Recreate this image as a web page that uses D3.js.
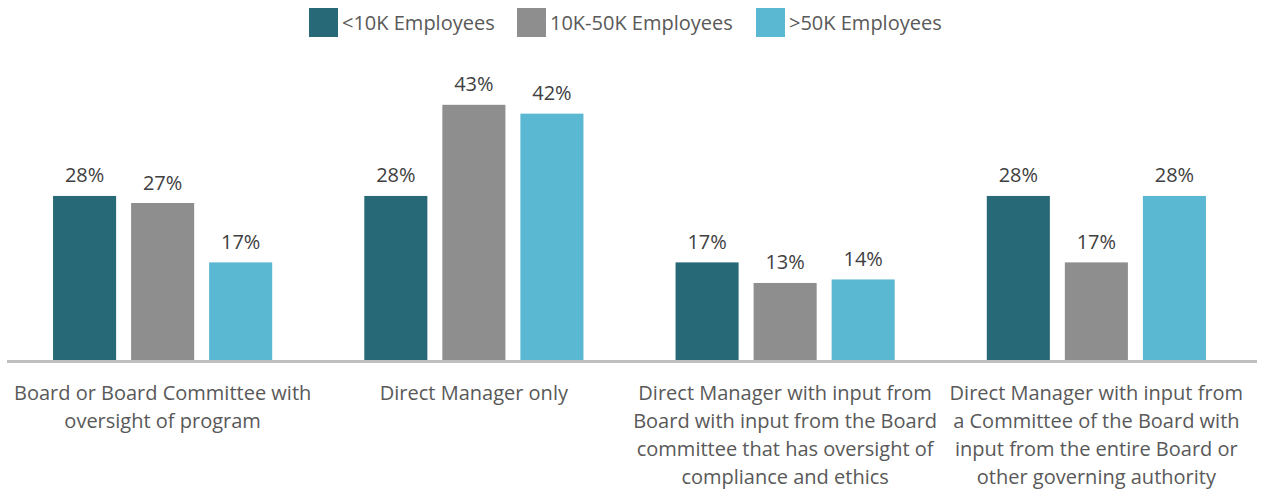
<!DOCTYPE html>
<html>
<head>
<meta charset="utf-8">
<script src="https://cdn.jsdelivr.net/npm/d3@7"></script>
<style>
  body { margin: 0; background: #fff; }
  svg { display: block; font-family: "Open Sans", Lato, sans-serif; }
</style>
</head>
<body>
<svg width="1263" height="492"></svg>
<script>
// categories (one label line per entry)
var categories = [
  ["Board or Board Committee with", "oversight of program"],
  ["Direct Manager only"],
  ["Direct Manager with input from", "Board with input from the Board", "committee that has oversight of", "compliance and ethics"],
  ["Direct Manager with input from", "a Committee of the Board with", "input from the entire Board or", "other governing authority"]
];
var seriesNames = ["<10K Employees", "10K-50K Employees", ">50K Employees"];
var colors = ["#286978", "#8e8e8e", "#5bb8d2"];

// percent values
var small = [27.9, 27.9, 16.6, 27.9];
var medium = [26.7, 43.4, 13.1, 16.6];
var large = [16.6, 41.9, 13.7, 27.9];
var values = [small, medium, large];

var svg = d3.select("svg");
var baseline = 360;
var fontSize = 20;

var x0 = d3.scaleBand()
  .domain(d3.range(categories.length))
  .range([7, 1252]);

var x1 = d3.scaleBand()
  .domain(d3.range(seriesNames.length))
  .range([0, x0.bandwidth()])
  .paddingInner(0.192)
  .paddingOuter(0.59);

var y = d3.scaleLinear()
  .domain([0, 50])
  .range([baseline, 66]);

// bars
var groups = svg.selectAll(".grp")
  .data(d3.range(categories.length))
  .enter().append("g")
    .attr("class", "grp")
    .attr("transform", function(d) { return "translate(" + x0(d) + ",0)"; });

groups.selectAll("rect")
  .data(function(c) { return values.map(function(s, i) { return {s: i, v: s[c]}; }); })
  .enter().append("rect")
    .attr("x", function(d) { return x1(d.s); })
    .attr("y", function(d) { return y(d.v); })
    .attr("width", x1.bandwidth())
    .attr("height", function(d) { return y(0) - y(d.v); })
    .attr("fill", function(d) { return colors[d.s]; });

groups.selectAll(".val")
  .data(function(c) { return values.map(function(s, i) { return {s: i, v: s[c]}; }); })
  .enter().append("text")
    .attr("class", "val")
    .attr("x", function(d) { return x1(d.s) + x1.bandwidth() / 2; })
    .attr("y", function(d) { return y(d.v) - 13.5; })
    .attr("text-anchor", "middle")
    .attr("font-size", fontSize)
    .attr("fill", "#404040")
    .text(function(d) { return Math.round(d.v) + "%"; });

// axis line
svg.append("line")
  .attr("x1", x0.range()[0]).attr("x2", x0.range()[1] + 5)
  .attr("y1", baseline + 1.5).attr("y2", baseline + 1.5)
  .attr("stroke", "#bfbfbf")
  .attr("stroke-width", 3);

// category labels
var cat = svg.selectAll(".cat")
  .data(categories)
  .enter().append("text")
    .attr("class", "cat")
    .attr("text-anchor", "middle")
    .attr("font-size", fontSize)
    .attr("fill", "#595959");

cat.selectAll("tspan")
  .data(function(d, i) { return d.map(function(t) { return {t: t, c: i}; }); })
  .enter().append("tspan")
    .attr("x", function(d) { return x0(d.c) + x0.bandwidth() / 2; })
    .attr("y", function(d, j) { return 400 + j * 28; })
    .text(function(d) { return d.t; });

// legend
var legendX = [309, 517, 756];
var legend = svg.selectAll(".leg")
  .data(seriesNames)
  .enter().append("g")
    .attr("class", "leg")
    .attr("transform", function(d, i) { return "translate(" + legendX[i] + ",8)"; });

legend.append("rect")
  .attr("width", 29)
  .attr("height", 29)
  .attr("fill", function(d, i) { return colors[i]; });

legend.append("text")
  .attr("x", 33)
  .attr("y", 21.5)
  .attr("font-size", fontSize)
  .attr("fill", "#595959")
  .text(function(d) { return d; });
</script>
</body>
</html>
